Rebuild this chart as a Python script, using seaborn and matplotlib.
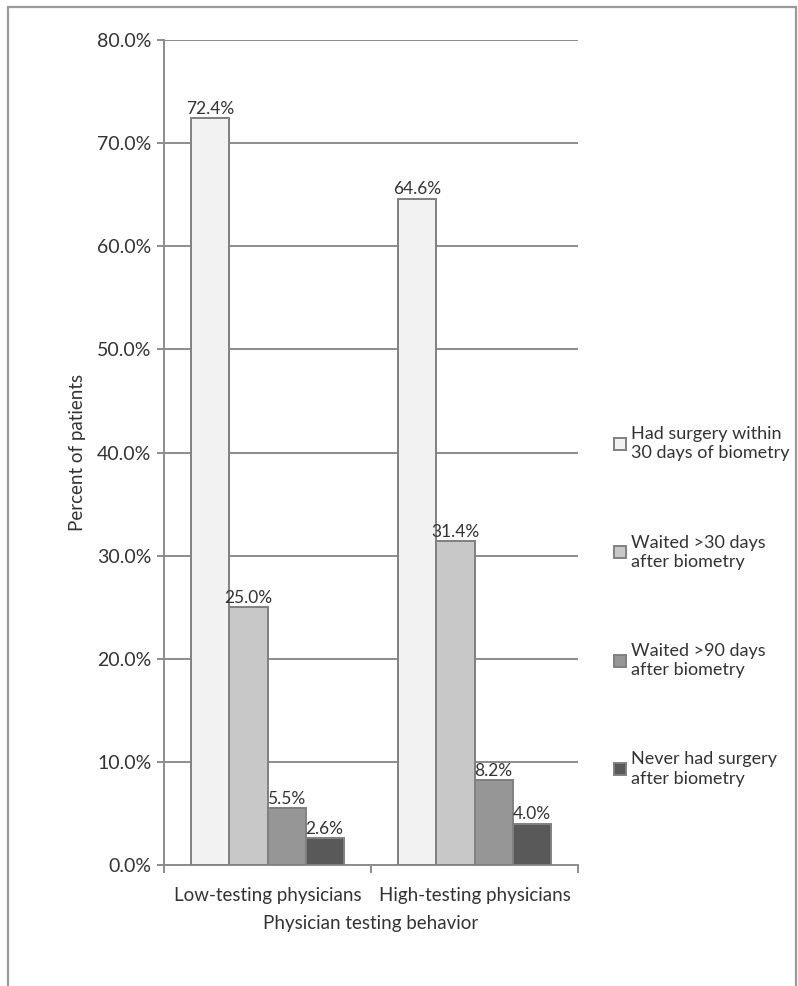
import numpy as np
import pandas as pd
import seaborn as sns
import matplotlib.pyplot as plt
from matplotlib.patches import Rectangle
from matplotlib.ticker import FuncFormatter, FixedLocator

groups = ['Low-testing physicians', 'High-testing physicians']
outcomes = ['Had surgery within\n30 days of biometry',
            'Waited >30 days\nafter biometry',
            'Waited >90 days\nafter biometry',
            'Never had surgery\nafter biometry']
low_testing = [72.4, 25.0, 5.5, 2.6]
high_testing = [64.6, 31.4, 8.2, 4.0]
bar_colors = ['#f2f2f2', '#c8c8c8', '#969696', '#595959']

df = pd.DataFrame({
    'group': [groups[0]] * 4 + [groups[1]] * 4,
    'outcome': outcomes * 2,
    'pct': low_testing + high_testing,
})

sns.set_style('white')
plt.rcParams['font.family'] = ['Lato', 'DejaVu Sans']

grid_gray = '#8c8c8c'
text_gray = '#333333'

fig = plt.figure(figsize=(7.98, 9.86), dpi=100)
ax = fig.add_axes([164 / 798, 1 - 865 / 986, (578 - 164) / 798, (865 - 40) / 986])

# outer frame like the original figure border
fig.patches.append(Rectangle((8 / 798, -0.05), (796 - 8) / 798, 1 - 7 / 986 + 0.05,
                             transform=fig.transFigure, fill=False,
                             edgecolor='#9a9a9a', linewidth=1.6, zorder=0))

sns.barplot(data=df, x='group', y='pct', hue='outcome', palette=bar_colors,
            width=0.735, edgecolor='#808080', linewidth=1.4, ax=ax, zorder=3)

for c in ax.containers:
    ax.bar_label(c, fmt='%.1f%%', padding=1, fontsize=12.5, color=text_gray)

ax.set_ylim(0, 80)
ax.set_xlim(-0.5, 1.5)
ax.set_yticks(np.arange(0, 81, 10))
ax.yaxis.set_major_formatter(FuncFormatter(lambda v, p: f'{v:.1f}%'))
ax.yaxis.grid(True, color=grid_gray, linewidth=1.4, zorder=0)
ax.set_axisbelow(True)

for s in ['top', 'right']:
    ax.spines[s].set_visible(False)
for s in ['left', 'bottom']:
    ax.spines[s].set_color(grid_gray)
    ax.spines[s].set_linewidth(1.4)

ax.tick_params(axis='y', which='major', direction='out', length=5, width=1.4,
               color=grid_gray, labelsize=14, labelcolor=text_gray, pad=4, left=True)
ax.tick_params(axis='x', which='major', length=0, labelsize=13.5,
               labelcolor=text_gray, pad=16)
ax.xaxis.set_minor_locator(FixedLocator([-0.5, 0.5, 1.5]))
ax.tick_params(axis='x', which='minor', direction='out', length=6, width=1.4,
               color=grid_gray, bottom=True)

ax.set_xlabel('Physician testing behavior', fontsize=13.5, color=text_gray, labelpad=8)
ax.set_ylabel('Percent of patients', fontsize=13.5, color=text_gray, labelpad=8)

leg = ax.legend(loc='upper left', bbox_to_anchor=(607 / 798, 1 - 419 / 986),
                bbox_transform=fig.transFigure, frameon=False, fontsize=13,
                handlelength=0.65, handleheight=0.65, handletextpad=0.3,
                labelspacing=4.05, borderaxespad=0)
for t in leg.get_texts():
    t.set_color(text_gray)
    t.set_linespacing(1.25)

fig.savefig('out.png', dpi=100)
